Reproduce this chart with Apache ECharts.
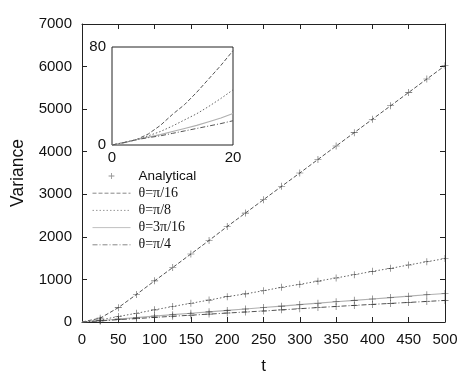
<!DOCTYPE html>
<html>
<head>
<meta charset="utf-8">
<script src="https://cdn.jsdelivr.net/npm/echarts@6/dist/echarts.min.js"></script>
<style>html,body{margin:0;padding:0;background:#fff;}#c{width:474px;height:380px;}</style>
</head>
<body>
<div id="c"></div>
<script>
// ---- data ----
const tMain = [0,25,50,75,100,125,150,175,200,225,250,275,300,325,350,375,400,425,450,475,500];
const vPi16 = [0,90,337,647,967,1280,1598,1915,2243,2558,2873,3188,3500,3818,4133,4448,4763,5078,5393,5708,6020];
const vPi8  = [0,45,130,205,285,365,440,515,595,660,735,815,885,960,1035,1110,1190,1260,1340,1415,1490];
const v3Pi16= [0,30,70,105,140,172,205,238,272,305,340,372,410,442,476,508,540,574,606,640,670];
const vPi4  = [0,25,55,80,108,135,160,185,210,235,258,285,312,340,365,390,414,437,460,483,507];

const tInset = [0,2,4,6,8,10,12,14,16,18,20];
const iPi16 = [0,2,4.3,9,16,25,33,43,54,65,77];
const iPi8  = [0,2,4.3,7.5,11,15.5,20.5,25.5,31.5,38,45];
const i3Pi16= [0,2,4.3,6.5,8.5,11,13.5,16,19,22,25.7];
const iPi4  = [0,2,4.3,6,7.5,9.5,11.5,13.5,15.5,17.5,19.8];

const names = ['θ=π/16','θ=π/8','θ=3π/16','θ=π/4'];
const mainXTicks = {min:0, max:500, interval:50};
const mainYTicks = {min:0, max:7000, interval:1000};
const insetXTicks = {min:0, max:20, interval:20};
const insetYTicks = {min:0, max:80, interval:80};

// ---- styles ----
const styles = [
  {color:'#555', width:1, type:[4,2]},
  {color:'#666', width:1, type:[1.5,2]},
  {color:'#b0b0b0', width:1.2, type:'solid'},
  {color:'#555', width:1, type:[5,2,1,2]}
];
const legendLineColors = ['#888','#999','#c0c0c0','#888'];
const plusPath = 'path://M6.4,0H7.6V6.4H14V7.6H7.6V14H6.4V7.6H0V6.4H6.4Z';
const plusLegend = 'path://M0,0M12,12M5.5,2.5H6.5V5.5H9.5V6.5H6.5V9.5H5.5V6.5H2.5V5.5H5.5Z';
const sans = 'Liberation Sans';
const axisCol = '#222';

function zip(xs, ys){ return xs.map((x,i)=>[x, ys[i]]); }
const mainVals = [vPi16, vPi8, v3Pi16, vPi4];
const insetVals = [iPi16, iPi8, i3Pi16, iPi4];

const analytical = [];
mainVals.forEach(arr => tMain.forEach((t,i)=>{ if (t>0) analytical.push([t, arr[i]]); }));

const series = [];
mainVals.forEach((arr,k)=>{
  series.push({type:'line', name:names[k], xAxisIndex:0, yAxisIndex:0, data:zip(tMain,arr),
    symbol:'none', showSymbol:false, lineStyle:styles[k], itemStyle:{color:styles[k].color}, z:3, animation:false});
});
series.push({type:'scatter', name:'Analytical', xAxisIndex:0, yAxisIndex:0, data:analytical,
  symbol:plusPath, symbolSize:7, itemStyle:{color:'#333'}, z:4, animation:false});
insetVals.forEach((arr,k)=>{
  series.push({type:'line', name:names[k], xAxisIndex:2, yAxisIndex:2, data:zip(tInset,arr),
    symbol:'none', showSymbol:false, lineStyle:styles[k], itemStyle:{color:styles[k].color}, z:6, animation:false});
});

const lbl = {color:'#111', fontFamily:sans, fontSize:15, formatter: v => String(v)};
const chart = echarts.init(document.getElementById('c'), null, {renderer:'canvas'});
chart.setOption({
  backgroundColor:'#fff',
  animation:false,
  grid:[
    {left:82, right:29, top:24, bottom:56, show:false},
    {left:112, top:47, width:121, height:98, show:true, backgroundColor:'#fff', borderColor:axisCol, borderWidth:1, z:5}
  ],
  legend:{
    orient:'vertical', left:92, top:169, itemWidth:38, itemHeight:10, itemGap:3.2, padding:0,
    selectedMode:false, z:7,
    data:[{name:'Analytical', icon:plusLegend, itemStyle:{color:'#777'}}].concat(names.map((n,k)=>({name:n, itemStyle:{opacity:0},
      lineStyle:{color:legendLineColors[k], width:1}}))),
    formatter: n => n==='Analytical' ? '{s|'+n+'}' : '{t|'+n+'}',
    textStyle:{
      rich:{
        s:{fontFamily:sans, fontSize:13.5, color:'#111', padding:[0,0,0,3]},
        t:{fontFamily:'Liberation Serif', fontSize:14, color:'#111', padding:[0,0,0,3]}
      }
    }
  },
  xAxis:[
    {type:'value', gridIndex:0, ...mainXTicks, position:'bottom',
     name:'t', nameLocation:'middle', nameGap:36, nameTextStyle:{fontFamily:sans, fontSize:17, color:'#111'},
     axisLine:{show:true, onZero:false, lineStyle:{color:axisCol, width:1}},
     axisTick:{show:true, inside:true, length:5, lineStyle:{color:axisCol}},
     axisLabel:{...lbl, margin:10}, splitLine:{show:false}},
    {type:'value', gridIndex:0, ...mainXTicks, position:'top',
     axisLine:{show:true, onZero:false, lineStyle:{color:axisCol, width:1}},
     axisTick:{show:true, inside:true, length:5, lineStyle:{color:axisCol}},
     axisLabel:{show:false}, splitLine:{show:false}},
    {type:'value', gridIndex:1, ...insetXTicks, position:'bottom',
     axisLine:{show:false, onZero:false},
     axisTick:{show:false},
     axisLabel:{...lbl, margin:5, showMaxLabel:true}, splitLine:{show:false}}
  ],
  yAxis:[
    {type:'value', gridIndex:0, ...mainYTicks, position:'left',
     name:'Variance', nameLocation:'middle', nameGap:55,
     nameTextStyle:{fontFamily:sans, fontSize:17.5, color:'#111'},
     axisLine:{show:true, onZero:false, lineStyle:{color:axisCol, width:1}},
     axisTick:{show:true, inside:true, length:5, lineStyle:{color:axisCol}},
     axisLabel:{...lbl, margin:10}, splitLine:{show:false}},
    {type:'value', gridIndex:0, ...mainYTicks, position:'right',
     axisLine:{show:true, onZero:false, lineStyle:{color:axisCol, width:1}},
     axisTick:{show:true, inside:true, length:5, lineStyle:{color:axisCol}},
     axisLabel:{show:false}, splitLine:{show:false}},
    {type:'value', gridIndex:1, ...insetYTicks, position:'left',
     axisLine:{show:false, onZero:false},
     axisTick:{show:false},
     axisLabel:{...lbl, margin:6, showMaxLabel:true}, splitLine:{show:false}}
  ],
  series: series
});
</script>
</body>
</html>
